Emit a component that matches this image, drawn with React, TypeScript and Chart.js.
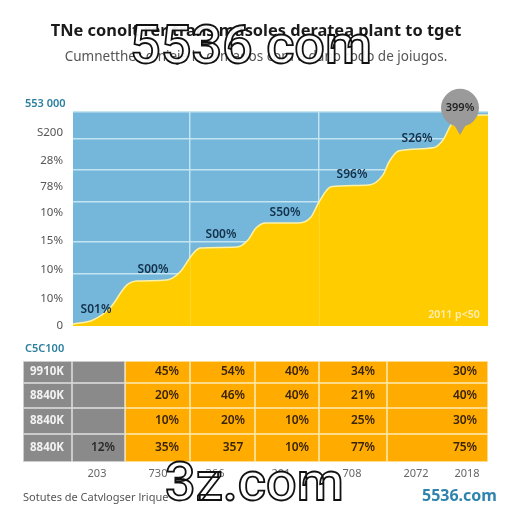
import React, { useEffect, useRef } from "react";
import { Chart, registerables } from "chart.js";

Chart.register(...registerables);

// ---- text ----
const titleText = "TNe conolt rer trans masoles deratea plant to tget";
const subtitleText = "Cumnetthes d nieje la ormados com a dano rodo de joiugos.";
const topAxisCaption = "553 000";
const tableCaption = "C5C100";
const sourceText = "Sotutes de Catvlogser lrique";
const brandText = "5536.com";
const markOne = "5536 com";
const markTwo = "3z.com";
const cornerNote = "2011 p<50";

// ---- area chart ----
const areaX = [0, 20, 37, 54, 64, 94, 107, 119, 127, 164, 175, 183, 193, 226, 238, 246, 258, 296, 310, 316, 326, 360, 370, 378, 386, 415];
const areaY = [0.9, 2.8, 8.4, 19.2, 21, 21.5, 25.2, 33.2, 36.4, 36.9, 40.2, 45.8, 48.1, 48.1, 50.9, 57.9, 65, 65.9, 70.6, 76.6, 81.8, 83.2, 86.9, 93.9, 97.7, 98.6];
const yTickValues = [0, 12.6, 26.2, 39.7, 52.8, 65, 77.1, 90.2];
const yTickLabels = ["0", "10%", "10%", "15%", "10%", "78%", "28%", "S200"];
const yGridValues = [24.3, 39.3, 57.9, 72.9, 87.4, 100];
const xGridValues = [117, 246];
const pointLabelX = [23, 80, 148, 212, 279, 344];
const pointLabelY = [7.5, 26.2, 42.5, 52.8, 70.6, 87.4];
const pointLabelText = ["S01%", "S00%", "S00%", "S50%", "S96%", "S26%"];
const calloutX = 387;
const calloutY = 101.9;
const calloutTailY = 92.5;
const calloutText = "399%";
const noteX = 381;
const noteY = 5.1;

// ---- table ----
const colEdges = [0, 49, 102, 167, 232, 296, 364, 465];
const rowEdges = [0, 22, 47, 73, 101];
const rowNames = ["9910K", "8840K", "8840K", "8840K"];
const rowOneCells = ["", "45%", "54%", "40%", "34%", "30%"];
const rowTwoCells = ["", "20%", "46%", "40%", "21%", "40%"];
const rowThreeCells = ["", "10%", "20%", "10%", "25%", "30%"];
const rowFourCells = ["12%", "35%", "357", "10%", "77%", "75%"];
const cellTextX = [80, 144, 210, 274, 340, 442];
const rowNameX = 24;
const tableTickX = [74, 135, 192, 258, 329, 393, 444];
const tableTickLabels = ["203", "730", "366", "201", "708", "2072", "2018"];

const GREY = "#8A8A8A";
const ORANGE = "#FFAB00";
const DARK = "#14304A";
const FONT = "'Noto Sans', sans-serif";

const areaLabels = {
  id: "areaLabels",
  afterDatasetsDraw(chart: any) {
    const { ctx, scales } = chart;
    ctx.save();
    ctx.textAlign = "center";
    ctx.textBaseline = "middle";
    ctx.fillStyle = DARK;
    ctx.font = `600 12px ${FONT}`;
    pointLabelText.forEach((t, i) => {
      ctx.fillText(t, scales.x.getPixelForValue(pointLabelX[i]), scales.y.getPixelForValue(pointLabelY[i]));
    });
    ctx.fillStyle = "#222";
    ctx.font = `600 11px ${FONT}`;
    ctx.fillText(calloutText, scales.x.getPixelForValue(calloutX), scales.y.getPixelForValue(calloutY));
    ctx.fillStyle = "rgba(255,240,190,0.95)";
    ctx.font = `600 10.5px ${FONT}`;
    ctx.fillText(cornerNote, scales.x.getPixelForValue(noteX), scales.y.getPixelForValue(noteY));
    ctx.restore();
  },
};

const plotBackground = {
  id: "plotBackground",
  beforeDraw(chart: any) {
    const { ctx, chartArea: a } = chart;
    ctx.save();
    ctx.fillStyle = "#74B7DA";
    ctx.fillRect(a.left, a.top, a.width, a.height);
    ctx.restore();
  },
};

const tableText = {
  id: "tableText",
  afterDatasetsDraw(chart: any) {
    const { ctx, scales } = chart;
    const rows = [rowOneCells, rowTwoCells, rowThreeCells, rowFourCells];
    ctx.save();
    ctx.textAlign = "center";
    ctx.textBaseline = "middle";
    rows.forEach((cells, r) => {
      const y = scales.y.getPixelForValue((rowEdges[r] + rowEdges[r + 1]) / 2);
      ctx.fillStyle = "#F2F2F2";
      ctx.font = `700 11.5px ${FONT}`;
      ctx.fillText(rowNames[r], scales.x.getPixelForValue(rowNameX), y);
      ctx.font = `600 12px ${FONT}`;
      cells.forEach((t, c) => {
        ctx.fillStyle = c === 0 ? "#2A2A2A" : "#3A2408";
        ctx.fillText(t, scales.x.getPixelForValue(cellTextX[c]), y);
      });
    });
    ctx.restore();
  },
};

const place = (left: number, top: number, extra: React.CSSProperties = {}): React.CSSProperties => ({
  position: "absolute",
  left,
  top,
  whiteSpace: "nowrap",
  fontFamily: FONT,
  lineHeight: 1,
  ...extra,
});

export default function App() {
  const topRef = useRef<HTMLCanvasElement>(null);
  const bottomRef = useRef<HTMLCanvasElement>(null);

  useEffect(() => {
    const area = new Chart(topRef.current as HTMLCanvasElement, {
      type: "line",
      data: {
        datasets: [
          {
            data: [{ x: calloutX, y: calloutY }],
            showLine: false,
            pointRadius: 19,
            pointBackgroundColor: "#9A9A9A",
            pointBorderWidth: 0,
            clip: false,
          },
          {
            data: [{ x: calloutX, y: calloutTailY }],
            showLine: false,
            pointStyle: "triangle",
            rotation: 180,
            pointRadius: 7,
            pointBackgroundColor: "#9A9A9A",
            pointBorderWidth: 0,
            clip: false,
          },
          {
            data: areaX.map((x, i) => ({ x, y: areaY[i] })),
            fill: "origin",
            backgroundColor: "#FFCC00",
            borderColor: "#FFF2A6",
            borderWidth: 1.5,
            pointRadius: 0,
            cubicInterpolationMode: "monotone",
          },
        ],
      } as any,
      options: {
        responsive: false,
        animation: false,
        layout: { padding: { left: 24, right: 24, top: 21, bottom: 186 } },
        plugins: {
          legend: { display: false },
          tooltip: { enabled: false },
          title: {
            display: true,
            text: titleText,
            color: "#1A1A1A",
            font: { family: FONT, size: 16.4, weight: "bold", lineHeight: 1.2 },
            padding: { top: 0, bottom: 8 },
          },
          subtitle: {
            display: true,
            text: subtitleText,
            color: "#555",
            font: { family: FONT, size: 13.5, weight: "normal", lineHeight: 1.2 },
            padding: { top: 0, bottom: 47 },
          },
        },
        scales: {
          x: {
            type: "linear",
            min: 0,
            max: 415,
            border: { display: false },
            grid: { color: "rgba(255,255,255,0.16)", lineWidth: 1, drawTicks: false, z: 1 },
            ticks: { display: false },
            afterBuildTicks: (s: any) => {
              s.ticks = xGridValues.map((value) => ({ value }));
            },
            afterFit: (s: any) => {
              s.height = 0;
            },
          },
          x2: {
            type: "linear",
            axis: "x",
            position: "bottom",
            min: 0,
            max: 415,
            border: { display: false },
            grid: { color: "#C4E4F2", lineWidth: 1.2, drawTicks: false },
            ticks: { display: false },
            afterBuildTicks: (s: any) => {
              s.ticks = xGridValues.map((value) => ({ value }));
            },
            afterFit: (s: any) => {
              s.height = 0;
            },
          },
          y: {
            type: "linear",
            min: 0,
            max: 100,
            border: { display: false },
            grid: { display: false, drawTicks: false },
            afterBuildTicks: (s: any) => {
              s.ticks = yTickValues.map((value) => ({ value }));
            },
            afterFit: (s: any) => {
              s.width = 49;
            },
            ticks: {
              autoSkip: false,
              padding: 10,
              color: "#555",
              font: { family: FONT, size: 11.5 },
              callback: (v: any) => yTickLabels[yTickValues.indexOf(v)] ?? "",
            },
          },
          y2: {
            type: "linear",
            position: "left",
            min: 0,
            max: 100,
            border: { display: false },
            grid: { color: "#C4E4F2", lineWidth: 1.5, drawTicks: false },
            ticks: { display: false },
            afterBuildTicks: (s: any) => {
              s.ticks = yGridValues.map((value) => ({ value }));
            },
            afterFit: (s: any) => {
              s.width = 0;
            },
          },
        },
      } as any,
      plugins: [plotBackground, areaLabels],
    });

    const rowHeight = (r: number) => rowEdges[r + 1] - rowEdges[r];
    const table = new Chart(bottomRef.current as HTMLCanvasElement, {
      type: "bar",
      data: {
        datasets: rowNames.map((_, r) => ({
          data: colEdges.slice(0, -1).map((e, c) => ({
            x: [e, colEdges[c + 1]],
            y: (rowEdges[r] + rowEdges[r + 1]) / 2,
          })),
          grouped: false,
          barPercentage: 5,
          maxBarThickness: rowHeight(r),
          borderSkipped: false,
          borderWidth: 0.75,
          backgroundColor: colEdges.slice(0, -1).map((_e, c) => (c < 2 ? GREY : ORANGE)),
          borderColor: colEdges.slice(0, -1).map((_e, c) => (c < 2 ? "#D8D8D8" : "#FFE7A0")),
        })),
      } as any,
      options: {
        responsive: false,
        animation: false,
        indexAxis: "y",
        layout: { padding: { left: 23, right: 24, top: 361, bottom: 32 } },
        plugins: { legend: { display: false }, tooltip: { enabled: false } },
        scales: {
          x: {
            type: "linear",
            min: 0,
            max: 465,
            border: { display: false },
            grid: { display: false, drawTicks: false },
            afterBuildTicks: (s: any) => {
              s.ticks = tableTickX.map((value) => ({ value }));
            },
            afterFit: (s: any) => {
              s.height = 18;
            },
            ticks: {
              autoSkip: false,
              maxRotation: 0,
              padding: 5,
              color: "#666",
              font: { family: FONT, size: 11 },
              callback: (v: any) => tableTickLabels[tableTickX.indexOf(v)] ?? "",
            },
          },
          y: { type: "linear", min: 0, max: 101, reverse: true, display: false, offset: false },
        },
      } as any,
      plugins: [tableText],
    });

    return () => {
      area.destroy();
      table.destroy();
    };
  }, []);

  const outline: React.CSSProperties = {
    fontFamily: "Roboto, sans-serif",
    fontSize: 54,
    fontWeight: 500,
    color: "rgba(255,255,255,0.92)",
    WebkitTextStroke: "1.8px #111",
  };

  return (
    <div style={{ position: "absolute", left: 0, top: 0, width: 512, height: 512, overflow: "hidden", background: "#fff" }}>
      <canvas ref={topRef} width={512} height={512} style={{ position: "absolute", left: 0, top: 0 }} />
      <canvas ref={bottomRef} width={512} height={512} style={{ position: "absolute", left: 0, top: 0 }} />
      <span style={place(25, 97, { fontSize: 11, fontWeight: 600, color: "#2C7F9E" })}>{topAxisCaption}</span>
      <span style={place(25, 342, { fontSize: 11, fontWeight: 600, color: "#2C7F9E" })}>{tableCaption}</span>
      <span style={place(23, 491, { fontSize: 11, color: "#555" })}>{sourceText}</span>
      <span style={place(422, 487, { fontSize: 16, fontWeight: 700, color: "#2E84AE" })}>{brandText}</span>
      <span style={place(130, 18, outline)}>{markOne}</span>
      <span style={place(165, 455, outline)}>{markTwo}</span>
    </div>
  );
}
